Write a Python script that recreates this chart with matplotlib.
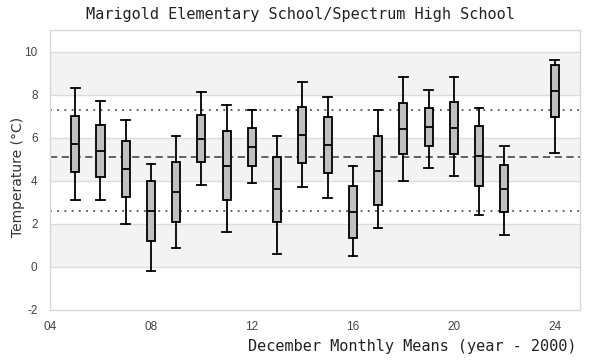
import matplotlib
matplotlib.use("Agg")
import matplotlib.pyplot as plt

plt.rcParams["axes.unicode_minus"] = False

title = "Marigold Elementary School/Spectrum High School"
xlabel = "December Monthly Means (year - 2000)"
ylabel = "Temperature (°C)"

years = [5, 6, 7, 8, 9, 10, 11, 12, 13, 14, 15, 16, 17, 18, 19, 20, 21, 22, 24]
whislo = [3.10, 3.10, 1.99, -0.20, 0.87, 3.80, 1.61, 3.89, 0.59, 3.71, 3.19, 0.50, 1.80, 3.99, 4.59, 4.22, 2.40, 1.47, 5.29]
q1 = [4.40, 4.17, 3.26, 1.20, 2.08, 4.87, 3.10, 4.68, 2.08, 4.82, 4.36, 1.33, 2.87, 5.24, 5.61, 5.24, 3.75, 2.54, 6.96]
med = [5.71, 5.40, 4.56, 2.59, 3.47, 5.94, 4.68, 5.57, 3.61, 6.12, 5.66, 2.54, 4.45, 6.40, 6.50, 6.45, 5.15, 3.61, 8.17]
q3 = [7.01, 6.59, 5.85, 3.99, 4.87, 7.05, 6.31, 6.45, 5.10, 7.43, 6.96, 3.75, 6.08, 7.61, 7.38, 7.66, 6.54, 4.73, 9.38]
whishi = [8.29, 7.71, 6.82, 4.78, 6.08, 8.12, 7.52, 7.29, 6.08, 8.59, 7.89, 4.68, 7.29, 8.82, 8.22, 8.82, 7.38, 5.61, 9.61]

ref_upper = 7.30
ref_mean = 5.12
ref_lower = 2.60

xticks = [4, 8, 12, 16, 20, 24]
xticklabels = ["04", "08", "12", "16", "20", "24"]
yticks = [-2, 0, 2, 4, 6, 8, 10]

fig = plt.figure(figsize=(6, 3.6), dpi=100)
ax = fig.add_axes([50/600, 1-310/360, 530/600, 280/360])
ax.set_xlim(4, 25)
ax.set_ylim(-2, 11)

# alternating bands
for lo in range(-2, 11, 2):
    if (lo // 2) % 2 == 0:
        ax.axhspan(lo, lo + 2, color="#f3f3f3", zorder=0, lw=0)
for y in yticks[1:]:
    ax.axhline(y, color="#dcdcdc", lw=1.0, zorder=0.5)

ax.axhline(ref_upper, color="#555555", lw=1.3, ls=(0, (1.0, 3)), zorder=1)
ax.axhline(ref_lower, color="#555555", lw=1.3, ls=(0, (1.0, 3)), zorder=1)
ax.axhline(ref_mean, color="#555555", lw=1.3, ls=(0, (4, 2.5)), zorder=1)

stats = []
for i in range(len(years)):
    stats.append(dict(whislo=whislo[i], q1=q1[i], med=med[i], q3=q3[i], whishi=whishi[i], fliers=[]))

lw = 1.3
ax.bxp(stats, positions=years, widths=0.32, patch_artist=True, showfliers=False,
       manage_ticks=False,
       boxprops=dict(facecolor="#c0c0c0", edgecolor="black", linewidth=lw),
       medianprops=dict(color="black", linewidth=lw),
       whiskerprops=dict(color="black", linewidth=lw),
       capprops=dict(color="black", linewidth=lw),
       capwidths=0.34, zorder=3)

ax.set_xticks(xticks)
ax.set_xticklabels(xticklabels)
ax.set_yticks(yticks)
ax.tick_params(axis="y", length=0, labelsize=8.5, labelcolor="#444444", pad=9)
ax.tick_params(axis="x", length=0, labelsize=8.5, labelcolor="#444444", pad=8)
for lab in ax.get_xticklabels() + ax.get_yticklabels():
    lab.set_family("Liberation Sans")
for s in ax.spines.values():
    s.set_color("#d8d8d8")
    s.set_linewidth(1.0)

fig.text(18/600, 1-177/360, ylabel, rotation=90, ha="center", va="center",
         fontsize=10, color="#333333", family="DejaVu Sans")
fig.text(577/600, 1-347/360, xlabel, ha="right", va="center", fontsize=11,
         family="DejaVu Sans Mono", color="#222222")
fig.text(0.5, 1-15/360, title, ha="center", va="center", fontsize=11,
         family="DejaVu Sans Mono", color="#222222")

fig.savefig("out.png", dpi=100)
